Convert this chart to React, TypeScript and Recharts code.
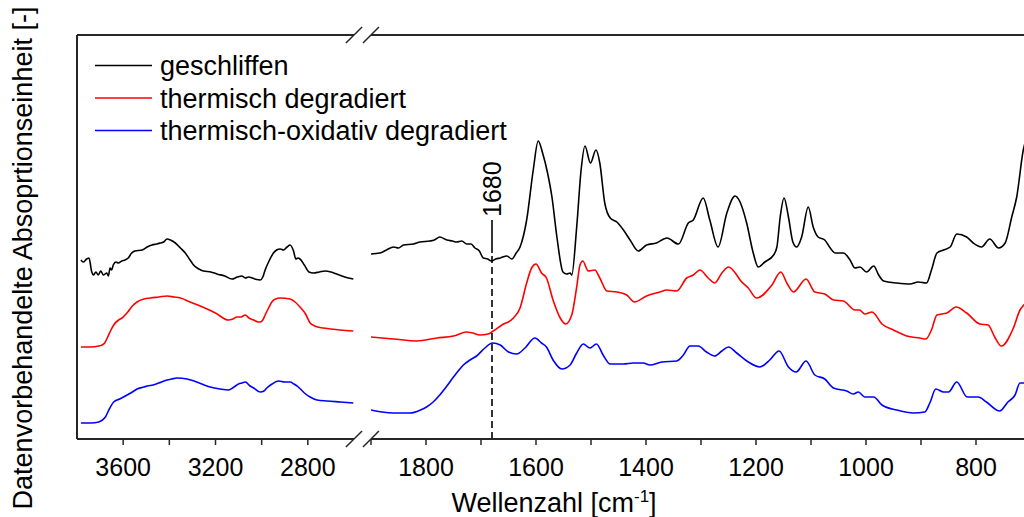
import React from "react";
import { LineChart, Line, XAxis, YAxis, Legend, ReferenceLine } from "recharts";

type Pt = [number, number];

const FONT = "'Liberation Sans', Arial, sans-serif";
const AXIS = "#262626";

// 3800-2600 cm-1 (links vom Achsenbruch)
const geschliffenHigh: Pt[] = [
  [3783, 1.79], [3773, 1.77], [3758, 1.8], [3748, 1.81], [3736, 1.67], [3729, 1.64], [3718, 1.67], [3708, 1.64],
  [3697, 1.68], [3686, 1.64], [3671, 1.66], [3664, 1.63], [3657, 1.71], [3650, 1.69], [3643, 1.74], [3631, 1.77],
  [3621, 1.76], [3606, 1.78], [3592, 1.79], [3578, 1.81], [3563, 1.86], [3549, 1.88], [3518, 1.89], [3496, 1.92],
  [3475, 1.94], [3455, 1.95], [3439, 1.96], [3424, 1.97], [3410, 2.0], [3395, 1.99], [3374, 1.96], [3352, 1.91],
  [3331, 1.86], [3310, 1.79], [3295, 1.74], [3272, 1.7], [3252, 1.68], [3220, 1.67], [3194, 1.65], [3160, 1.63],
  [3129, 1.6], [3105, 1.62], [3086, 1.63], [3070, 1.61], [3057, 1.62], [3030, 1.6], [3006, 1.59], [2995, 1.62],
  [2985, 1.69], [2968, 1.78], [2949, 1.86], [2935, 1.89], [2920, 1.9], [2905, 1.89], [2890, 1.92], [2877, 1.94],
  [2862, 1.88], [2852, 1.8], [2843, 1.81], [2834, 1.8], [2815, 1.74], [2795, 1.67], [2776, 1.66], [2750, 1.67],
  [2725, 1.68], [2700, 1.67], [2675, 1.65], [2640, 1.62], [2603, 1.6],
];
const thermHigh: Pt[] = [
  [3783, 0.92], [3740, 0.92], [3706, 0.93], [3691, 0.94], [3680, 0.96], [3669, 1.01], [3655, 1.08], [3641, 1.14],
  [3620, 1.19], [3605, 1.21], [3580, 1.27], [3560, 1.33], [3540, 1.37], [3510, 1.4], [3482, 1.41], [3445, 1.42],
  [3410, 1.43], [3380, 1.42], [3352, 1.41], [3310, 1.37], [3266, 1.33], [3200, 1.26], [3144, 1.19], [3125, 1.2],
  [3107, 1.22], [3090, 1.22], [3071, 1.24], [3055, 1.21], [3035, 1.19], [3015, 1.17], [3006, 1.17], [2995, 1.19],
  [2985, 1.24], [2970, 1.31], [2956, 1.37], [2940, 1.4], [2920, 1.41], [2877, 1.4], [2855, 1.37], [2834, 1.32],
  [2810, 1.25], [2790, 1.16], [2770, 1.13], [2733, 1.11], [2700, 1.1], [2661, 1.09], [2603, 1.08],
];
const oxidHigh: Pt[] = [
  [3783, 0.16], [3740, 0.16], [3706, 0.17], [3690, 0.19], [3677, 0.22], [3660, 0.3], [3641, 0.37], [3615, 0.4],
  [3583, 0.44], [3560, 0.47], [3540, 0.5], [3510, 0.52], [3496, 0.53], [3470, 0.54], [3446, 0.56], [3410, 0.59],
  [3390, 0.6], [3367, 0.61], [3323, 0.6], [3270, 0.56], [3223, 0.52], [3180, 0.5], [3144, 0.49], [3120, 0.52],
  [3100, 0.55], [3085, 0.56], [3071, 0.57], [3050, 0.53], [3035, 0.51], [3006, 0.47], [2990, 0.48], [2978, 0.51],
  [2955, 0.55], [2927, 0.58], [2900, 0.57], [2877, 0.57], [2860, 0.55], [2841, 0.52], [2815, 0.46], [2790, 0.42],
  [2760, 0.39], [2718, 0.38], [2660, 0.37], [2603, 0.36],
];

// 1900-700 cm-1 (rechts vom Achsenbruch)
const geschliffenLow: Pt[] = [
  [1900, 1.85], [1884, 1.86], [1872, 1.89], [1859, 1.92], [1850, 1.91], [1841, 1.94], [1823, 1.95], [1811, 1.97],
  [1793, 1.98], [1785, 1.99], [1775, 2.02], [1762, 1.99], [1752, 1.98], [1744, 1.97], [1735, 1.98], [1726, 1.95],
  [1718, 1.95], [1711, 1.91], [1703, 1.88], [1696, 1.81], [1688, 1.8], [1681, 1.78], [1673, 1.8], [1665, 1.81],
  [1653, 1.83], [1644, 1.8], [1636, 1.86], [1629, 1.92], [1617, 2.19], [1605, 2.69], [1596, 2.98], [1588, 2.86],
  [1579, 2.66], [1571, 2.42], [1562, 2.02], [1551, 1.67], [1544, 1.65], [1538, 1.66], [1535, 1.64], [1526, 2.12],
  [1518, 2.69], [1511, 2.93], [1501, 2.76], [1491, 2.89], [1484, 2.76], [1475, 2.36], [1465, 2.21], [1453, 2.17],
  [1441, 2.09], [1429, 1.99], [1414, 1.88], [1399, 1.94], [1381, 1.96], [1362, 2.01], [1341, 1.95], [1323, 2.16],
  [1314, 2.19], [1296, 2.41], [1284, 2.19], [1269, 1.92], [1253, 2.26], [1238, 2.43], [1229, 2.37], [1217, 2.16],
  [1205, 1.86], [1196, 1.72], [1184, 1.77], [1168, 1.84], [1162, 1.92], [1156, 2.22], [1149, 2.41], [1141, 2.22],
  [1133, 1.97], [1126, 1.92], [1117, 2.02], [1105, 2.32], [1096, 2.12], [1087, 2.02], [1075, 1.99], [1065, 1.91],
  [1056, 1.86], [1041, 1.86], [1029, 1.79], [1020, 1.71], [1011, 1.72], [999, 1.67], [986, 1.73], [977, 1.64],
  [968, 1.58], [944, 1.56], [920, 1.55], [905, 1.57], [890, 1.56], [881, 1.69], [871, 1.86], [859, 1.89],
  [847, 1.92], [835, 2.05], [817, 2.02], [805, 1.96], [790, 1.92], [775, 2.0], [759, 1.91], [747, 1.96],
  [735, 2.22], [726, 2.42], [714, 2.89], [706, 3.05],
];
const thermLow: Pt[] = [
  [1900, 1.02], [1859, 1.0], [1817, 0.98], [1780, 1.01], [1750, 1.03], [1726, 1.07], [1715, 1.06], [1702, 1.04],
  [1687, 1.05], [1678, 1.08], [1662, 1.14], [1641, 1.21], [1629, 1.31], [1617, 1.56], [1608, 1.71], [1600, 1.75],
  [1590, 1.66], [1581, 1.61], [1569, 1.39], [1556, 1.21], [1546, 1.15], [1535, 1.24], [1526, 1.52], [1520, 1.74],
  [1515, 1.78], [1505, 1.68], [1493, 1.69], [1484, 1.61], [1471, 1.48], [1453, 1.47], [1435, 1.44], [1421, 1.37],
  [1399, 1.43], [1375, 1.47], [1362, 1.49], [1344, 1.48], [1326, 1.61], [1314, 1.64], [1302, 1.69], [1287, 1.61],
  [1275, 1.56], [1262, 1.66], [1250, 1.72], [1235, 1.64], [1229, 1.59], [1214, 1.51], [1199, 1.41], [1171, 1.54],
  [1155, 1.67], [1143, 1.55], [1132, 1.47], [1109, 1.6], [1093, 1.47], [1075, 1.45], [1059, 1.39], [1041, 1.38],
  [1020, 1.29], [1012, 1.29], [1002, 1.25], [989, 1.27], [971, 1.15], [950, 1.09], [926, 1.03], [902, 1.01],
  [891, 1.0], [881, 1.09], [871, 1.24], [853, 1.26], [836, 1.32], [817, 1.26], [793, 1.15], [778, 1.14],
  [766, 1.02], [754, 0.93], [732, 1.11], [720, 1.29], [713, 1.34], [706, 1.37],
];
const oxidLow: Pt[] = [
  [1900, 0.29], [1880, 0.27], [1859, 0.26], [1829, 0.26], [1810, 0.29], [1799, 0.32], [1787, 0.37], [1775, 0.44],
  [1762, 0.53], [1750, 0.62], [1740, 0.69], [1732, 0.74], [1720, 0.79], [1708, 0.83], [1693, 0.91], [1679, 0.96],
  [1665, 0.94], [1650, 0.87], [1635, 0.85], [1620, 0.91], [1602, 1.01], [1590, 0.96], [1581, 0.92], [1569, 0.79],
  [1553, 0.7], [1538, 0.74], [1526, 0.86], [1514, 0.95], [1502, 0.91], [1490, 0.95], [1478, 0.84], [1465, 0.75],
  [1441, 0.75], [1423, 0.76], [1405, 0.76], [1393, 0.74], [1371, 0.77], [1344, 0.78], [1332, 0.84], [1320, 0.93],
  [1305, 0.93], [1290, 0.87], [1275, 0.83], [1262, 0.88], [1250, 0.92], [1235, 0.86], [1214, 0.77], [1193, 0.72],
  [1175, 0.79], [1158, 0.88], [1141, 0.72], [1127, 0.67], [1109, 0.78], [1093, 0.64], [1075, 0.6], [1059, 0.51],
  [1035, 0.48], [1023, 0.45], [1014, 0.47], [1002, 0.42], [986, 0.42], [971, 0.34], [944, 0.29], [914, 0.26],
  [893, 0.27], [884, 0.36], [873, 0.5], [859, 0.47], [850, 0.47], [835, 0.57], [816, 0.42], [796, 0.42],
  [781, 0.37], [757, 0.28], [742, 0.37], [729, 0.44], [720, 0.56], [713, 0.56], [706, 0.55],
];

const leftTicks = [3600, 3400, 3200, 3000, 2800];
const rightTicks = [1900, 1800, 1700, 1600, 1500, 1400, 1300, 1200, 1100, 1000, 900, 800, 700];
const yTicks = [0.15, 0.54, 0.93, 1.31, 1.7, 2.09, 2.48, 2.87, 3.25, 3.64, 4.03];
const markerWn = 1680;
const markerDashTop = 1.86;
const markerSolidTop = 2.19;

// Achsenbruch "//" oben und unten
const breakMarks: Pt[][] = [
  [[2635, -0.08], [2565, 0.08]],
  [[2561, -0.08], [2492, 0.08]],
  [[2635, 3.96], [2565, 4.12]],
  [[2561, 3.96], [2492, 4.12]],
];

const series = [
  { name: "geschliffen", color: "#000000", high: geschliffenHigh, low: geschliffenLow },
  { name: "thermisch degradiert", color: "#ff0000", high: thermHigh, low: thermLow },
  { name: "thermisch-oxidativ degradiert", color: "#0000ff", high: oxidHigh, low: oxidLow },
];

const rows = (pts: Pt[]) => pts.map(([wn, abs]) => ({ wn, abs }));
const labelEvery = (step: number) => (v: number) => (v % step === 0 ? String(v) : "");

const tickStyle = { fontSize: 25, fill: "#000", fontFamily: FONT };

function LegendBox(props: any) {
  const payload = props.payload ?? [];
  return (
    <svg width={460} height={100} style={{ display: "block" }}>
      {payload.map((p: any, i: number) => (
        <g key={p.value}>
          <line x1={2} x2={59} y1={17.5 + i * 32.5} y2={17.5 + i * 32.5} stroke={p.color} strokeWidth={1.6} />
          <text x={67} y={27 + i * 32.5} fontSize={27} fontFamily={FONT} fill="#000">
            {p.value}
          </text>
        </g>
      ))}
    </svg>
  );
}

export default function App() {
  return (
    <div
      style={{
        position: "absolute",
        left: 0,
        top: 0,
        width: 1024,
        height: 517,
        overflow: "hidden",
        background: "#fff",
      }}
    >
      <div style={{ position: "absolute", left: 0, top: 0 }}>
        <LineChart width={1040} height={517} margin={{ top: 34, right: 686, bottom: 38, left: 17 }}>
          <XAxis
            xAxisId="b"
            type="number"
            dataKey="wn"
            domain={[2600, 3800]}
            reversed
            allowDataOverflow
            ticks={leftTicks}
            interval={0}
            tickFormatter={labelEvery(400)}
            height={40}
            tickSize={6}
            tickMargin={13}
            axisLine={{ stroke: AXIS, strokeWidth: 2 }}
            tickLine={{ stroke: AXIS, strokeWidth: 1.5 }}
            tick={tickStyle}
          />
          <XAxis
            xAxisId="t"
            orientation="top"
            type="number"
            domain={[2600, 3800]}
            reversed
            allowDataOverflow
            ticks={leftTicks}
            interval={0}
            height={1}
            tickSize={-3}
            tick={false}
            axisLine={{ stroke: AXIS, strokeWidth: 2 }}
            tickLine={{ stroke: AXIS, strokeWidth: 1.5 }}
          />
          <YAxis
            type="number"
            domain={[0, 4.04]}
            ticks={yTicks}
            interval={0}
            width={60}
            tickSize={3}
            tick={false}
            axisLine={{ stroke: AXIS, strokeWidth: 2 }}
            tickLine={{ stroke: AXIS, strokeWidth: 1.5 }}
            label={() => (
              <text x={32} y={258} transform="rotate(-90 32 258)" textAnchor="middle" fontSize={27} fontFamily={FONT} fill="#000">
                Datenvorbehandelte Absoprtionseinheit [-]
              </text>
            )}
          />
          {series.map((s) => (
            <Line
              key={s.name}
              xAxisId="b"
              data={rows(s.high)}
              dataKey="abs"
              name={s.name}
              type="monotone"
              stroke={s.color}
              strokeWidth={1.6}
              dot={false}
              activeDot={false}
              isAnimationActive={false}
            />
          ))}
          {breakMarks.map((seg, i) => (
            <ReferenceLine
              key={i}
              xAxisId="b"
              segment={seg.map(([x, y]) => ({ x, y }))}
              ifOverflow="visible"
              stroke={AXIS}
              strokeWidth={1.5}
            />
          ))}
          <Legend
            layout="vertical"
            align="center"
            verticalAlign="middle"
            wrapperStyle={{ left: 93, top: 48, width: 460, height: 100 }}
            content={<LegendBox />}
          />
        </LineChart>
      </div>
      <div style={{ position: "absolute", left: 0, top: 0 }}>
        <LineChart width={1040} height={517} margin={{ top: 34, right: 9, bottom: 38, left: 371 }}>
          <XAxis
            xAxisId="b"
            type="number"
            dataKey="wn"
            domain={[700, 1900]}
            reversed
            allowDataOverflow
            ticks={rightTicks}
            interval={0}
            tickFormatter={labelEvery(200)}
            height={40}
            tickSize={6}
            tickMargin={13}
            axisLine={{ stroke: AXIS, strokeWidth: 2 }}
            tickLine={{ stroke: AXIS, strokeWidth: 1.5 }}
            tick={tickStyle}
            label={() => (
              <text x={554} y={512} textAnchor="middle" fontSize={27} fontFamily={FONT} fill="#000">
                Wellenzahl [cm
                <tspan dy={-10} fontSize={17}>-1</tspan>
                <tspan dy={10}>]</tspan>
              </text>
            )}
          />
          <XAxis
            xAxisId="t"
            orientation="top"
            type="number"
            domain={[700, 1900]}
            reversed
            allowDataOverflow
            ticks={rightTicks}
            interval={0}
            height={1}
            tickSize={-3}
            tick={false}
            axisLine={{ stroke: AXIS, strokeWidth: 2 }}
            tickLine={{ stroke: AXIS, strokeWidth: 1.5 }}
          />
          <YAxis type="number" domain={[0, 4.04]} hide width={0} />
          {series.map((s) => (
            <Line
              key={s.name}
              xAxisId="b"
              data={rows(s.low)}
              dataKey="abs"
              name={s.name}
              type="monotone"
              stroke={s.color}
              strokeWidth={1.6}
              dot={false}
              activeDot={false}
              isAnimationActive={false}
            />
          ))}
          <ReferenceLine
            xAxisId="b"
            segment={[{ x: markerWn, y: 0 }, { x: markerWn, y: markerDashTop }]}
            ifOverflow="visible"
            stroke="#000"
            strokeWidth={1.6}
            strokeDasharray="7 4"
          />
          <ReferenceLine
            xAxisId="b"
            segment={[{ x: markerWn, y: markerDashTop }, { x: markerWn, y: markerSolidTop }]}
            ifOverflow="visible"
            stroke="#000"
            strokeWidth={1.6}
            label={(p: any) => {
              const vb = p.viewBox ?? {};
              const x = vb.x ?? 492;
              const y = (vb.y ?? 220) - 3;
              return (
                <text
                  x={x}
                  y={y}
                  transform={`rotate(-90 ${x} ${y})`}
                  textAnchor="start"
                  dominantBaseline="central"
                  fontSize={25}
                  fontFamily={FONT}
                  fill="#000"
                >
                  {String(markerWn)}
                </text>
              );
            }}
          />
        </LineChart>
      </div>
    </div>
  );
}
